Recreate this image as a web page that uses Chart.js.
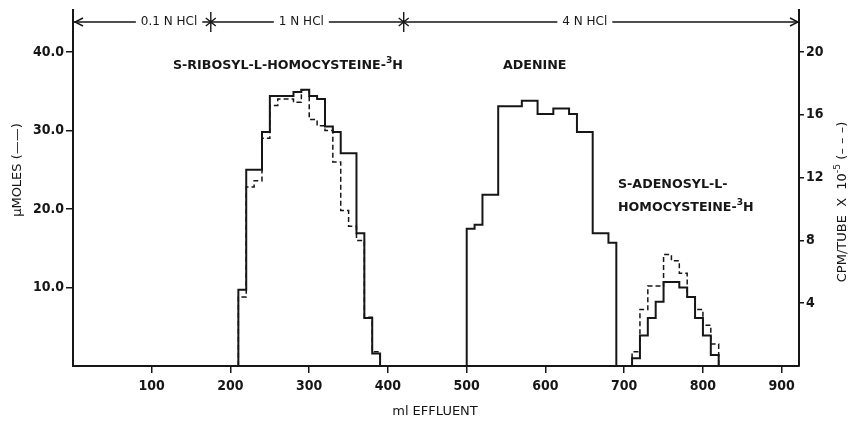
<!DOCTYPE html>
<html>
<head>
<meta charset="utf-8">
<script src="https://cdn.jsdelivr.net/npm/chart.js@4.4.0/dist/chart.umd.min.js"></script>
<style>
  html, body { margin: 0; padding: 0; background: #fff; }
  #wrap { width: 860px; height: 422px; }
</style>
</head>
<body>
<div id="wrap"><canvas id="chart" width="860" height="422"></canvas></div>
<script>
// Tubos de 10 ml: inicio de cada fraccion (ml de efluente)
const ribosylMl = [200, 210, 220, 230, 240, 250, 260, 270, 280, 290, 300, 310, 320, 330, 340, 350, 360, 370, 380, 390];
const ribosylUmoles = [0, 9.7, 25.0, 25.0, 29.8, 34.4, 34.4, 34.4, 34.9, 35.2, 34.4, 34.0, 30.5, 29.8, 27.1, 27.1, 16.9, 6.1, 1.6, 0];
const ribosylCpm = [0, 4.4, 11.4, 11.8, 14.5, 16.6, 17.0, 17.0, 16.8, 17.6, 15.7, 15.3, 15.0, 13.0, 9.9, 8.9, 8.0, 3.1, 0.9, 0];

const adenineMl = [490, 500, 510, 520, 530, 540, 550, 560, 570, 580, 590, 600, 610, 620, 630, 640, 650, 660, 670, 680, 690];
const adenineUmoles = [0, 17.5, 18.0, 21.8, 21.8, 33.1, 33.1, 33.1, 33.8, 33.8, 32.1, 32.1, 32.8, 32.8, 32.1, 29.8, 29.8, 16.9, 16.9, 15.7, 0];

const adenosylMl = [700, 710, 720, 730, 740, 750, 760, 770, 780, 790, 800, 810, 820];
const adenosylUmoles = [0, 1.0, 3.9, 6.1, 8.2, 10.7, 10.7, 10.0, 8.8, 6.1, 3.9, 1.4, 0];
const adenosylCpm = [0, 0.9, 3.6, 5.1, 5.1, 7.1, 6.7, 5.9, 4.4, 3.6, 2.6, 1.4, 0];

// Ejes
const mlTicks = [100, 200, 300, 400, 500, 600, 700, 800, 900];
const umolTicks = [10, 20, 30, 40];
const cpmTicks = [4, 8, 12, 16, 20];

// Gradiente de HCl (limites en ml) y rotulos
const hclBounds = [0, 175, 420, 922];
const hclLabels = ['0.1 N HCl', '1 N HCl', '4 N HCl'];

const INK = '#161616';
const FONT = '"DejaVu Sans", sans-serif';
const TICK_FONT = '"DejaVu Sans Condensed", "DejaVu Sans", sans-serif';

function pts(xs, ys) {
    return xs.map((x, i) => ({ x: x, y: ys[i] }));
}

const solidPts = [].concat(pts(ribosylMl, ribosylUmoles), pts(adenineMl, adenineUmoles), pts(adenosylMl, adenosylUmoles));
const dashedPts = [].concat(pts(ribosylMl, ribosylCpm), pts(adenosylMl, adenosylCpm));

// texto con superindice: partes [{t, sup}]
function supText(c, parts, x, y, size, weight) {
    const pre = (weight || '') + ' ';
    let cx = x;
    c.textAlign = 'left';
    parts.forEach(p => {
        if (p.sup) {
            c.font = pre + (size * 0.72) + 'px ' + FONT;
            c.fillText(p.t, cx, y - size * 0.45);
        } else {
            c.font = pre + size + 'px ' + FONT;
            c.fillText(p.t, cx, y);
        }
        cx += c.measureText(p.t).width;
    });
}

function supWidth(c, parts, size, weight) {
    const pre = (weight || '') + ' ';
    let w = 0;
    parts.forEach(p => {
        c.font = pre + (p.sup ? size * 0.72 : size) + 'px ' + FONT;
        w += c.measureText(p.t).width;
    });
    return w;
}

const anotaciones = {
    id: 'anotaciones',
    afterDraw(chart) {
        const c = chart.ctx;
        const xs = chart.scales.x;
        c.save();
        c.fillStyle = INK;
        c.strokeStyle = INK;
        c.textBaseline = 'middle';

        // linea superior con flechas y asteriscos
        const yA = 22;
        const labelMl = [122, 290, 650];
        c.lineWidth = 1.4;
        c.font = '12px ' + FONT;
        for (let i = 0; i < hclLabels.length; i++) {
            const x0 = xs.getPixelForValue(hclBounds[i]);
            const x1 = xs.getPixelForValue(hclBounds[i + 1]);
            const tx = xs.getPixelForValue(labelMl[i]);
            const tw = c.measureText(hclLabels[i]).width;
            c.beginPath();
            c.moveTo(x0, yA); c.lineTo(tx - tw / 2 - 5, yA);
            c.moveTo(tx + tw / 2 + 5, yA); c.lineTo(x1, yA);
            c.stroke();
            c.textAlign = 'center';
            c.fillText(hclLabels[i], tx, yA);
        }
        // puntas de flecha
        const xl = xs.getPixelForValue(hclBounds[0]) + 2;
        const xr = xs.getPixelForValue(hclBounds[hclBounds.length - 1]) - 1;
        c.beginPath();
        c.moveTo(xl + 8, yA - 4); c.lineTo(xl, yA); c.lineTo(xl + 8, yA + 4);
        c.moveTo(xr - 8, yA - 4); c.lineTo(xr, yA); c.lineTo(xr - 8, yA + 4);
        c.stroke();
        // asteriscos en los cambios de HCl
        for (let i = 1; i < hclBounds.length - 1; i++) {
            const ax = xs.getPixelForValue(hclBounds[i]);
            c.beginPath();
            c.moveTo(ax, yA - 10); c.lineTo(ax, yA + 10);
            c.moveTo(ax - 5, yA - 4); c.lineTo(ax + 5, yA + 4);
            c.moveTo(ax - 5, yA + 4); c.lineTo(ax + 5, yA - 4);
            c.stroke();
        }

        // rotulos de los picos (mismo cuerpo de letra para todos)
        const rib = [{ t: 'S-RIBOSYL-L-HOMOCYSTEINE-' }, { t: '3', sup: true }, { t: 'H' }];
        const s = Math.min(13, 13 * 230 / supWidth(c, rib, 13, 'bold'));
        supText(c, rib, 173, 66, s, 'bold');
        supText(c, [{ t: 'ADENINE' }], 503, 66, s, 'bold');
        supText(c, [{ t: 'S-ADENOSYL-L-' }], 618, 185, s, 'bold');
        supText(c, [{ t: 'HOMOCYSTEINE-' }, { t: '3', sup: true }, { t: 'H' }], 618, 208, s, 'bold');

        // titulo eje x
        c.textAlign = 'center';
        c.font = '13px ' + FONT;
        c.fillText('ml EFFLUENT', 435, 412);

        // titulo eje izquierdo
        c.save();
        c.translate(18, 170);
        c.rotate(-Math.PI / 2);
        c.font = '13px ' + FONT;
        c.textAlign = 'center';
        c.fillText('\u03BCMOLES (\u2014\u2014)', 0, 0);
        c.restore();

        // titulo eje derecho
        c.save();
        c.translate(843, 202);
        c.rotate(-Math.PI / 2);
        const cpmTitle = [{ t: 'CPM/TUBE  X  10' }, { t: '-5', sup: true }, { t: ' (\u2013 \u2013 \u2013)' }];
        const w = supWidth(c, cpmTitle, 13);
        supText(c, cpmTitle, -w / 2, 0, 13);
        c.restore();

        c.restore();
    }
};

const axisGrid = { drawOnChartArea: false, color: INK, lineWidth: 1.5 };
const axisBorder = { display: true, color: INK, width: 2 };
const tickFont = { family: TICK_FONT, size: 14, weight: 'bold' };

new Chart(document.getElementById('chart'), {
    type: 'line',
    data: {
        datasets: [
            {
                data: solidPts,
                yAxisID: 'y',
                borderColor: INK,
                borderWidth: 2,
                stepped: true,
                pointRadius: 0,
                fill: false
            },
            {
                data: dashedPts,
                yAxisID: 'y2',
                borderColor: INK,
                borderWidth: 1.5,
                borderDash: [5, 3],
                stepped: true,
                pointRadius: 0,
                fill: false
            }
        ]
    },
    options: {
        responsive: false,
        animation: false,
        layout: { padding: { top: 10 } },
        plugins: { legend: { display: false }, tooltip: { enabled: false } },
        scales: {
            x: {
                type: 'linear',
                min: 0,
                max: 922,
                afterBuildTicks: a => { a.ticks = mlTicks.map(v => ({ value: v })); },
                afterFit: a => { a.height = 56; },
                ticks: { color: INK, font: tickFont, padding: 5, maxRotation: 0 },
                grid: Object.assign({ tickLength: 7 }, axisGrid),
                border: axisBorder
            },
            y: {
                position: 'left',
                min: 0,
                max: 45.3,
                afterBuildTicks: a => { a.ticks = umolTicks.map(v => ({ value: v })); },
                afterFit: a => { a.width = 73; },
                ticks: { color: INK, font: tickFont, padding: 2, callback: v => v.toFixed(1) },
                grid: Object.assign({ tickLength: 7 }, axisGrid),
                border: axisBorder
            },
            y2: {
                position: 'right',
                min: 0,
                max: 22.65,
                afterBuildTicks: a => { a.ticks = cpmTicks.map(v => ({ value: v })); },
                afterFit: a => { a.width = 61; },
                ticks: { color: INK, font: tickFont, padding: 2 },
                grid: Object.assign({ tickLength: 5 }, axisGrid),
                border: axisBorder
            }
        }
    },
    plugins: [anotaciones]
});
</script>
</body>
</html>
